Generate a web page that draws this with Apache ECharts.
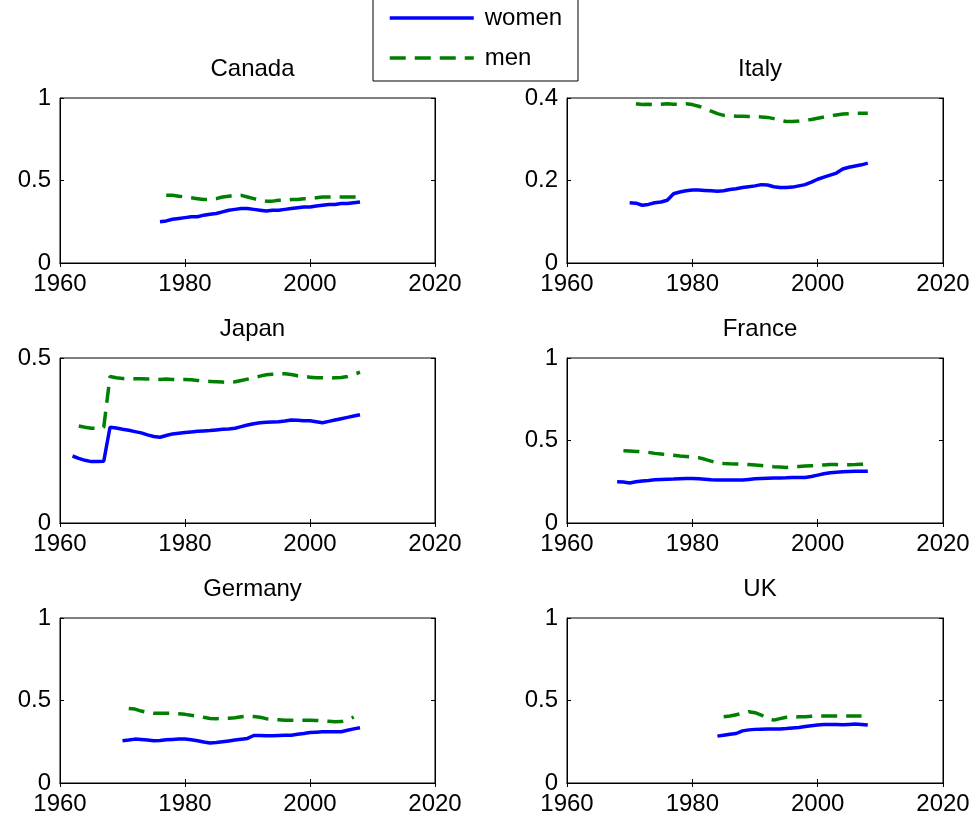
<!DOCTYPE html>
<html>
<head>
<meta charset="utf-8">
<script src="https://cdn.jsdelivr.net/npm/echarts@6/dist/echarts.min.js"></script>
<style>
html,body{margin:0;padding:0;background:#fff;}
#chart{width:976px;height:821px;}
</style>
</head>
<body>
<div id="chart"></div>
<script>
// ---------- data ----------
const countries = ['Canada', 'Italy', 'Japan', 'France', 'Germany', 'UK'];
const seriesNames = ['women', 'men'];
const xTicks = [1960, 1980, 2000, 2020];
const yMaxes = [1, 0.4, 0.5, 1, 1, 1];
const yIntervals = [0.5, 0.2, 0.5, 0.5, 0.5, 0.5];

const canadaWomenStart = 1976;
const canadaWomen = [0.25,0.255,0.265,0.27,0.275,0.28,0.28,0.29,0.295,0.30,0.31,0.32,0.325,0.33,0.33,0.325,0.32,0.315,0.32,0.32,0.325,0.33,0.335,0.34,0.34,0.345,0.35,0.355,0.355,0.36,0.36,0.365,0.37];
const canadaMenStart = 1977;
const canadaMen = [0.41,0.41,0.405,0.40,0.395,0.39,0.385,0.385,0.39,0.40,0.405,0.41,0.41,0.40,0.39,0.38,0.375,0.375,0.38,0.38,0.385,0.385,0.39,0.39,0.395,0.40,0.40,0.40,0.40,0.40,0.40,0.40];

const italyWomenStart = 1970;
const italyWomen = [0.146,0.145,0.14,0.142,0.146,0.148,0.152,0.168,0.172,0.175,0.177,0.177,0.176,0.175,0.174,0.175,0.178,0.18,0.183,0.185,0.187,0.19,0.189,0.185,0.183,0.183,0.184,0.187,0.19,0.196,0.203,0.208,0.213,0.218,0.228,0.232,0.235,0.238,0.242];
const italyMenStart = 1971;
const italyMen = [0.386,0.384,0.385,0.384,0.385,0.386,0.385,0.385,0.386,0.384,0.38,0.375,0.368,0.362,0.358,0.357,0.356,0.356,0.355,0.355,0.354,0.353,0.35,0.346,0.343,0.343,0.344,0.346,0.348,0.351,0.354,0.357,0.359,0.361,0.362,0.363,0.363,0.363];

const japanWomenStart = 1962;
const japanWomen = [0.203,0.196,0.19,0.186,0.186,0.187,0.29,0.288,0.284,0.281,0.277,0.273,0.267,0.262,0.26,0.265,0.27,0.272,0.274,0.276,0.278,0.279,0.28,0.282,0.284,0.285,0.287,0.292,0.297,0.301,0.304,0.305,0.306,0.307,0.309,0.312,0.311,0.31,0.31,0.307,0.304,0.308,0.312,0.316,0.32,0.324,0.328];
const japanMenStart = 1963;
const japanMen = [0.294,0.29,0.287,0.287,0.29,0.444,0.44,0.438,0.438,0.437,0.437,0.436,0.436,0.435,0.436,0.435,0.434,0.435,0.434,0.432,0.43,0.429,0.428,0.427,0.426,0.428,0.432,0.436,0.44,0.445,0.449,0.451,0.452,0.452,0.45,0.446,0.444,0.442,0.44,0.44,0.439,0.44,0.441,0.444,0.45,0.457];

const franceWomenStart = 1968;
const franceWomen = [0.25,0.248,0.243,0.25,0.255,0.258,0.262,0.264,0.265,0.266,0.268,0.27,0.27,0.268,0.265,0.262,0.26,0.26,0.26,0.26,0.26,0.264,0.268,0.27,0.271,0.272,0.273,0.274,0.276,0.276,0.276,0.282,0.29,0.298,0.304,0.308,0.31,0.312,0.314,0.314,0.314];
const franceMenStart = 1969;
const franceMen = [0.438,0.437,0.434,0.432,0.428,0.422,0.418,0.414,0.41,0.406,0.403,0.40,0.396,0.386,0.375,0.366,0.361,0.359,0.358,0.357,0.354,0.351,0.348,0.344,0.341,0.339,0.337,0.339,0.342,0.345,0.347,0.349,0.352,0.355,0.354,0.353,0.353,0.354,0.356,0.357];

const germanyWomenStart = 1970;
const germanyWomen = [0.256,0.26,0.266,0.264,0.26,0.256,0.258,0.262,0.264,0.266,0.266,0.262,0.256,0.248,0.243,0.245,0.25,0.255,0.26,0.265,0.27,0.288,0.288,0.286,0.287,0.288,0.289,0.29,0.295,0.30,0.306,0.308,0.31,0.31,0.31,0.311,0.32,0.328,0.335];
const germanyMenStart = 1971;
const germanyMen = [0.452,0.448,0.436,0.428,0.422,0.422,0.422,0.422,0.419,0.416,0.41,0.406,0.398,0.391,0.39,0.391,0.393,0.396,0.401,0.406,0.403,0.398,0.39,0.385,0.383,0.381,0.381,0.381,0.381,0.381,0.379,0.377,0.374,0.371,0.372,0.381,0.40];

const ukWomenStart = 1984;
const ukWomen = [0.284,0.29,0.296,0.30,0.316,0.322,0.325,0.326,0.327,0.327,0.328,0.33,0.334,0.337,0.342,0.347,0.351,0.354,0.355,0.354,0.353,0.355,0.357,0.355,0.351];
const ukMenStart = 1985;
const ukMen = [0.402,0.406,0.414,0.422,0.432,0.426,0.412,0.391,0.381,0.39,0.398,0.40,0.401,0.402,0.404,0.406,0.406,0.406,0.406,0.406,0.406,0.406,0.406];

const womenData = [
  [canadaWomenStart, canadaWomen], [italyWomenStart, italyWomen], [japanWomenStart, japanWomen],
  [franceWomenStart, franceWomen], [germanyWomenStart, germanyWomen], [ukWomenStart, ukWomen]
];
const menData = [
  [canadaMenStart, canadaMen], [italyMenStart, italyMen], [japanMenStart, japanMen],
  [franceMenStart, franceMen], [germanyMenStart, germanyMen], [ukMenStart, ukMen]
];

// ---------- layout ----------
const FONT = 'Liberation Sans, Arial, sans-serif';
const colLeft = [60, 567];
const colWidth = [375, 376];
const rowTop = [98, 358, 618];
const plotH = 165;

function pairs(start, vals) { return vals.map((v, i) => [start + i, v]); }

const grids = [], xAxes = [], yAxes = [], series = [], titles = [];
countries.forEach((name, i) => {
  const col = i % 2, row = Math.floor(i / 2);
  grids.push({ left: colLeft[col], top: rowTop[row], width: colWidth[col], height: plotH,
    show: true, borderColor: '#000', borderWidth: 1, backgroundColor: '#fff' });
  titles.push({ text: name, left: colLeft[col] + colWidth[col] / 2, top: rowTop[row] - 46, textAlign: 'center',
    textStyle: { fontFamily: FONT, fontSize: 24, fontWeight: 'normal', color: '#000' } });
  const xBase = { type: 'value', gridIndex: i, min: xTicks[0], max: xTicks[xTicks.length - 1], interval: 20,
    splitLine: { show: false }, axisLine: { show: true, lineStyle: { color: '#000', width: 1 } },
    axisTick: { show: true, inside: true, length: 4, lineStyle: { color: '#000' } } };
  xAxes.push(Object.assign({}, xBase, { position: 'bottom',
    axisLabel: { show: true, color: '#000', fontFamily: FONT, fontSize: 24, margin: 9,
      formatter: v => String(v) } }));
  xAxes.push(Object.assign({}, xBase, { position: 'top', axisLabel: { show: false } }));
  const yBase = { type: 'value', gridIndex: i, min: 0, max: yMaxes[i], interval: yIntervals[i],
    splitLine: { show: false }, axisLine: { show: true, lineStyle: { color: '#000', width: 1 } },
    axisTick: { show: true, inside: true, length: 4, lineStyle: { color: '#000' } } };
  yAxes.push(Object.assign({}, yBase, { position: 'left',
    axisLabel: { show: true, color: '#000', fontFamily: FONT, fontSize: 24, margin: 9 } }));
  yAxes.push(Object.assign({}, yBase, { position: 'right', axisLabel: { show: false } }));

  series.push({ name: seriesNames[0], type: 'line', xAxisIndex: 2 * i, yAxisIndex: 2 * i,
    data: pairs(womenData[i][0], womenData[i][1]), symbol: 'none', smooth: false, animation: false,
    lineStyle: { color: '#0000ff', width: 3.5, type: 'solid' }, itemStyle: { color: '#0000ff' } });
  series.push({ name: seriesNames[1], type: 'line', xAxisIndex: 2 * i, yAxisIndex: 2 * i,
    data: pairs(menData[i][0], menData[i][1]), symbol: 'none', smooth: false, animation: false,
    lineStyle: { color: '#007f00', width: 3.5, type: [16, 9] }, itemStyle: { color: '#007f00' } });
});

const option = {
  backgroundColor: '#fff',
  animation: false,
  title: titles,
  grid: grids,
  xAxis: xAxes,
  yAxis: yAxes,
  series: series,
  legend: {
    data: seriesNames, orient: 'vertical', left: 388, top: 6, padding: 0,
    itemWidth: 84, itemHeight: 14, itemGap: 16,
    itemStyle: { color: 'rgba(0,0,0,0)', borderWidth: 0, opacity: 0 },
    lineStyle: { width: 3.5 },
    textStyle: { fontFamily: FONT, fontSize: 24, color: '#000', padding: [0, 0, 0, 6] }
  },
  graphic: [{
    type: 'rect', shape: { x: 373, y: -10, width: 205, height: 91 },
    style: { fill: '#fff', stroke: '#000', lineWidth: 1 }, z: -1
  }]
};

const chart = echarts.init(document.getElementById('chart'), null, { renderer: 'canvas' });
chart.setOption(option);
</script>
</body>
</html>
